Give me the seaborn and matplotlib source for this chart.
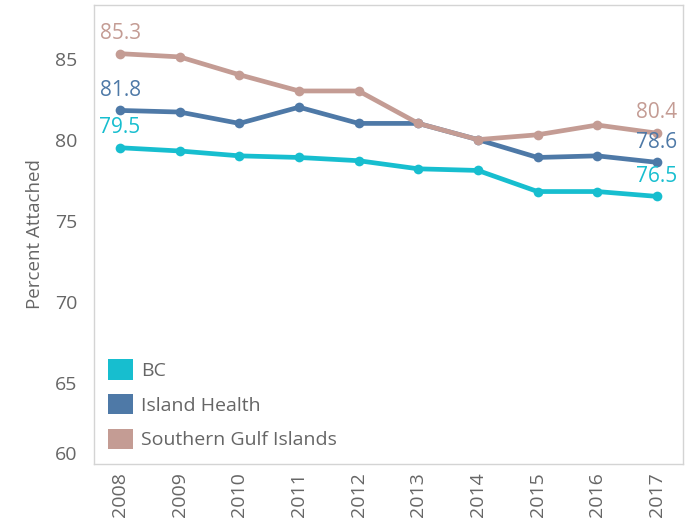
import pandas as pd
import numpy as np
import matplotlib.pyplot as plt
import seaborn as sns
from matplotlib.patches import Patch

years = ['2008', '2009', '2010', '2011', '2012', '2013', '2014', '2015', '2016', '2017']
bc = [79.5, 79.3, 79.0, 78.9, 78.7, 78.2, 78.1, 76.8, 76.8, 76.5]
island_health = [81.8, 81.7, 81.0, 82.0, 81.0, 81.0, 80.0, 78.9, 79.0, 78.6]
gulf_islands = [85.3, 85.1, 84.0, 83.0, 83.0, 81.0, 80.0, 80.3, 80.9, 80.4]

series = ['BC', 'Island Health', 'Southern Gulf Islands']
colors = ['#17becf', '#4e79a7', '#c49c94']

df = pd.DataFrame({
    'year': years * 3,
    'value': bc + island_health + gulf_islands,
    'region': [s for s in series for _ in years],
})

sns.set_style('white')
plt.rcParams['font.family'] = ['Open Sans', 'DejaVu Sans']

fig = plt.figure(figsize=(6.9, 5.27), dpi=100)
ax = fig.add_axes([0.136, 0.1195, 0.854, 0.871])

palette = dict(zip(series, colors))
sns.lineplot(data=df, x='year', y='value', hue='region', palette=palette,
             marker='o', markersize=7, markeredgewidth=0, linewidth=3.4,
             legend=False, ax=ax, sort=False)

# first / last value labels
for s, c in zip(series, colors):
    vals = df[df['region'] == s]['value'].tolist()
    for i in (0, len(vals) - 1):
        ax.annotate(f'{vals[i]:.1f}', (i, vals[i]), xytext=(0, 7),
                    textcoords='offset points', ha='center', va='bottom',
                    color=c, fontsize=15)

ax.set_xlim(-0.44, len(years) - 1 + 0.44)
ax.set_ylim(60, 88.3)
ax.set_yticks([60, 65, 70, 75, 80, 85])
ax.set_xlabel('')
ax.set_ylabel('Percent Attached', color='#666666', fontsize=13.5, labelpad=8)
ax.tick_params(axis='x', rotation=90, labelsize=14, colors='#666666', length=0, pad=6)
ax.tick_params(axis='y', labelsize=14, colors='#666666', length=6, width=1, pad=6)
ax.tick_params(axis='y', color='#e6e6e6')
ax.get_yticklabels()[0].set_va('bottom')

for sp in ax.spines.values():
    sp.set_color('#d4d4d4')
    sp.set_linewidth(1)

handles = [Patch(facecolor=c, edgecolor='none', label=s) for s, c in zip(series, colors)]
leg = ax.legend(handles=handles, loc='lower left', bbox_to_anchor=(0.0, 0.0),
                frameon=False, fontsize=14, handlelength=1.25, handleheight=1.25,
                handletextpad=0.45, labelspacing=0.72, borderaxespad=0.35)
for t in leg.get_texts():
    t.set_color('#666666')

fig.savefig('out.png', dpi=100)
